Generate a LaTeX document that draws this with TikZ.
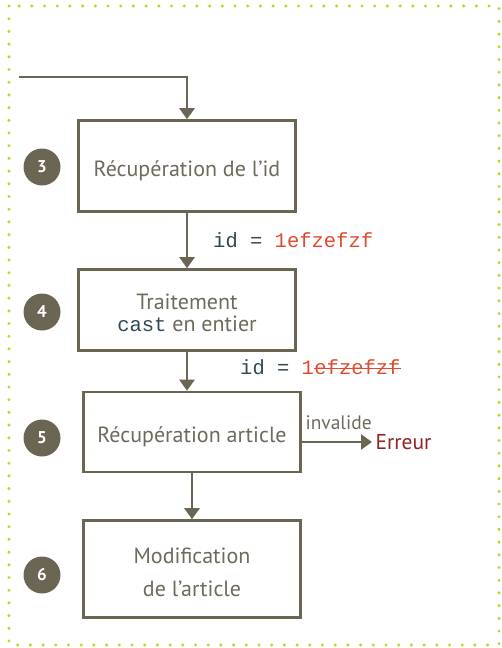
\documentclass[tikz,border=0pt]{standalone}
\usepackage{fontspec}
\setmainfont{PT Sans}
\setmonofont{Liberation Mono}
\usepackage{tikz}
\usetikzlibrary{arrows.meta,positioning}
\definecolor{olive}{HTML}{6B6654}
\definecolor{textgray}{HTML}{6E6A5C}
\definecolor{dotgreen}{HTML}{C6D32A}
\definecolor{codeblue}{HTML}{2F4A55}
\definecolor{codered}{HTML}{E04A2E}
\definecolor{errred}{HTML}{8E2424}
\newcommand{\topstrut}{\rule{0pt}{22pt}}

\begin{document}
\begin{tikzpicture}[x=1pt, y=-1pt,
  stepbox/.style={draw=olive, line width=2.6pt, fill=white, text=textgray,
                  font=\fontsize{22}{26}\selectfont, align=center,
                  minimum width=217pt, minimum height=#1},
  stepbox/.default=91pt,
  oneline/.style={text height=25pt, text depth=5pt},
  num/.style={circle, fill=olive, text=white, inner sep=0pt,
              minimum size=37pt, font=\fontsize{17}{17}\selectfont\bfseries},
  flow/.style={draw=olive, line width=2.6pt, -{Triangle[length=11pt,width=15pt]}},
  code/.style={font=\fontsize{20.5}{20}\selectfont\ttfamily, inner sep=0pt},
]
\useasboundingbox (0,0) rectangle (501,648);

% Dotted frame
\draw[dotgreen, line width=3.4pt, line cap=round,
      dash pattern=on 0pt off 12.7pt] (9,6) rectangle (499,645);

% Step 3
\coordinate (in) at (19,77);
\node[stepbox, oneline] (s3) at (187,166) {Récupération de l’id};
\node[num] (n3) at (42,167) {3};
\draw[flow] (in) -| (s3.north);

% Step 4
\node[stepbox=81pt] (s4) at (187,310)
  {\topstrut Traitement\\[-4pt]{\fontsize{20.5}{20}\selectfont\ttfamily\color{codeblue}cast} en entier};
\node[num] (n4) at (42,312) {4};
\draw[flow] (s3) -- (s4);
\node[code, anchor=west] (id1) at (213,240)
  {\color{codeblue}id = \color{codered}1efzefzf};

% Step 5
\node[stepbox=80pt, oneline] (s5) at (192,432) {Récupération article};
\node[num] (n5) at (42,438) {5};
\draw[flow] (s4) -- (s4 |- s5.north);
\node[code, anchor=west] (id2) at (240,367)
  {\color{codeblue}id = \color{codered}1};
\node[code, anchor=base west, text=codered] (cut) at (id2.base east) {efzefzf};
\draw[codered, line width=1.4pt] ([yshift=6pt]cut.base west) -- ([yshift=6pt]cut.base east);

% Error branch
\node[text=errred, font=\fontsize{21.5}{24}\selectfont, anchor=west] (err) at (372,442) {Erreur};
\draw[flow] (s5.east |- err) -- (err.west);
\node[text=textgray, font=\fontsize{19.5}{20}\selectfont, anchor=south west]
  (inv) at (302,433) {invalide};

% Step 6
\node[stepbox=97pt] (s6) at (192,569) {\topstrut Modification\\[7pt]de l’article};
\node[num] (n6) at (42,575) {6};
\draw[flow] (s5) -- (s6);
\end{tikzpicture}
\end{document}
